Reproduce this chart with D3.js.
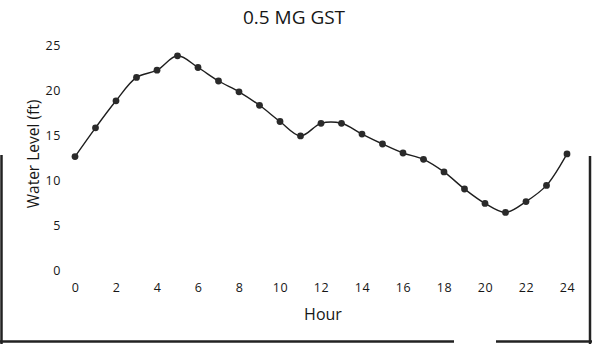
<!DOCTYPE html>
<html>
<head>
<meta charset="utf-8">
<script src="https://cdn.jsdelivr.net/npm/d3@7/dist/d3.min.js"></script>
<style>
	body { margin: 0; background: #fff; }
	svg { display: block; }
	text { font-family: "Open Sans", "DejaVu Sans", sans-serif; fill: #161616; }
</style>
</head>
<body>
<svg id="chart" width="592" height="344"></svg>
<script>
// values
const hours = [0, 1, 2, 3, 4, 5, 6, 7, 8, 9, 10, 11, 12, 13, 14, 15, 16, 17, 18, 19, 20, 21, 22, 23, 24];
const waterLevel = [12.6, 15.8, 18.8, 21.4, 22.2, 23.8, 22.5, 21.0, 19.8, 18.3, 16.5, 14.9, 16.3, 16.3, 15.1, 14.0, 13.0, 12.3, 10.9, 9.0, 7.4, 6.4, 7.6, 9.4, 12.9];
const xTicks = [0, 2, 4, 6, 8, 10, 12, 14, 16, 18, 20, 22, 24];
const yTicks = [0, 5, 10, 15, 20, 25];
const title = "0.5 MG GST";
const xTitle = "Hour";
const yTitle = "Water Level (ft)";

const svg = d3.select("#chart");

const x = d3.scaleLinear()
	.domain([0, 24])
	.range([75, 567]);

const y = d3.scaleLinear()
	.domain([0, 25])
	.range([270, 45]);

const data = hours.map((h, i) => ({ hour: h, value: waterLevel[i] }));

// scanned page frame
svg.append("g")
	.attr("stroke", "#222")
	.attr("stroke-width", 2.5)
	.call(g => g.append("line").attr("x1", 1.5).attr("x2", 1.5).attr("y1", 155).attr("y2", 344))
	.call(g => g.append("line").attr("x1", 590).attr("x2", 590).attr("y1", 156).attr("y2", 344))
	.call(g => g.append("line").attr("x1", 0).attr("x2", 454).attr("y1", 341.5).attr("y2", 341.5))
	.call(g => g.append("line").attr("x1", 496).attr("x2", 592).attr("y1", 341.5).attr("y2", 341.5));

// axes, labels only
const xAxis = svg.append("g")
	.attr("transform", "translate(0,283)")
	.call(d3.axisBottom(x).tickValues(xTicks).tickSize(0).tickPadding(0));
xAxis.select(".domain").remove();
xAxis.selectAll("text")
	.attr("font-size", 12.5)
	.attr("dy", "0.71em")
	.attr("letter-spacing", 0.6)
	.style("font-family", null);

const yAxis = svg.append("g")
	.attr("transform", "translate(61,0)")
	.call(d3.axisLeft(y).tickValues(yTicks).tickSize(0).tickPadding(0));
yAxis.select(".domain").remove();
yAxis.selectAll("text")
	.attr("font-size", 12.5)
	.attr("letter-spacing", 0.6)
	.style("font-family", null);

svg.append("text")
	.attr("x", 294)
	.attr("y", 24)
	.attr("text-anchor", "middle")
	.attr("font-size", 19)
	.text(title);

svg.append("text")
	.attr("x", 323)
	.attr("y", 320)
	.attr("text-anchor", "middle")
	.attr("font-size", 16)
	.text(xTitle);

svg.append("text")
	.attr("transform", "translate(39,154) rotate(-90)")
	.attr("text-anchor", "middle")
	.attr("font-size", 15.5)
	.text(yTitle);

const line = d3.line()
	.curve(d3.curveCatmullRom.alpha(0.5))
	.x(d => x(d.hour))
	.y(d => y(d.value));

svg.append("path")
	.datum(data)
	.attr("fill", "none")
	.attr("stroke", "#1e1e1e")
	.attr("stroke-width", 1.4)
	.attr("d", line);

svg.append("g")
	.selectAll("circle")
	.data(data)
	.join("circle")
	.attr("cx", d => x(d.hour))
	.attr("cy", d => y(d.value))
	.attr("r", 3.4)
	.attr("fill", "#2a2a2a");
</script>
</body>
</html>
